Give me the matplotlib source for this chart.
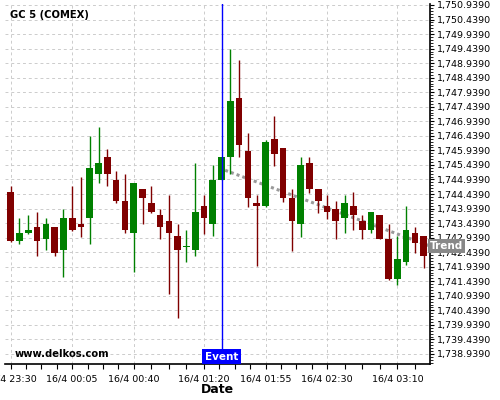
import datetime as dt
import numpy as np
import matplotlib
matplotlib.use('Agg')
import matplotlib.pyplot as plt
import matplotlib.transforms as mtransforms

# 5 minute candles, GC 5 (COMEX)
start = dt.datetime(2020, 4, 15, 23, 30)
opens = [1744.51, 1742.83, 1743.10, 1743.31, 1742.89, 1743.31, 1742.52, 1743.61,
         1743.41, 1743.61, 1745.13, 1745.71, 1744.92, 1744.20, 1743.11, 1744.61,
         1744.13, 1743.72, 1743.51, 1743.00, 1742.62, 1742.52, 1744.03, 1743.42,
         1744.93, 1745.72, 1747.74, 1745.92, 1744.13, 1744.03, 1746.33, 1746.02,
         1744.31, 1743.42, 1745.51, 1744.61, 1744.03, 1743.92, 1743.63, 1744.03,
         1743.51, 1743.21, 1743.72, 1742.90, 1741.53, 1742.11, 1743.10, 1743.00]
highs = [1744.72, 1743.60, 1743.71, 1743.81, 1743.60, 1743.31, 1743.91, 1744.70,
         1745.01, 1746.42, 1746.73, 1746.00, 1745.22, 1745.12, 1744.82, 1744.61,
         1744.70, 1743.91, 1744.40, 1743.40, 1743.19, 1745.50, 1744.40, 1745.43,
         1745.71, 1749.42, 1749.04, 1746.53, 1744.40, 1746.31, 1747.11, 1746.02,
         1744.60, 1745.70, 1745.70, 1744.61, 1744.40, 1744.19, 1744.40, 1744.50,
         1743.72, 1743.82, 1743.72, 1743.40, 1742.99, 1744.02, 1743.31, 1743.00]
lows = [1742.79, 1742.71, 1743.07, 1742.30, 1742.50, 1742.30, 1741.58, 1743.18,
        1742.97, 1742.71, 1744.81, 1744.70, 1744.12, 1743.09, 1741.77, 1743.40,
        1743.80, 1742.88, 1740.99, 1740.17, 1742.09, 1742.30, 1743.07, 1742.99,
        1744.93, 1745.13, 1745.70, 1744.00, 1741.97, 1744.00, 1745.41, 1744.18,
        1742.49, 1742.97, 1744.48, 1743.80, 1743.59, 1742.88, 1743.09, 1743.19,
        1742.88, 1743.09, 1742.88, 1741.49, 1741.32, 1741.99, 1742.40, 1741.89]
closes = [1742.83, 1743.10, 1743.20, 1742.83, 1743.41, 1742.42, 1743.61, 1743.20,
          1743.31, 1745.33, 1745.51, 1745.13, 1744.21, 1743.21, 1744.82, 1744.31,
          1743.83, 1743.32, 1743.11, 1742.52, 1742.65, 1743.82, 1743.63, 1744.92,
          1745.71, 1747.64, 1746.13, 1744.31, 1744.04, 1746.23, 1745.83, 1744.31,
          1743.52, 1745.44, 1744.62, 1744.21, 1743.83, 1743.52, 1744.13, 1743.73,
          1743.21, 1743.82, 1742.90, 1741.53, 1742.20, 1743.20, 1742.74, 1742.32]

major_idx = [0, 7, 14, 22, 29, 36, 44]
yticks = np.arange(1738.939, 1751.0, 0.5)

event_idx = 24
trend_x = [24.4, 47.72]
trend_y = [1745.255, 1742.651]

up_color = '#008000'
down_color = '#800000'

n = len(opens)
x = np.arange(n)
o = np.array(opens)
c = np.array(closes)
colors = [up_color if cc >= oo else down_color for oo, cc in zip(o, c)]
body_bottom = np.minimum(o, c)
body_height = np.maximum(np.abs(c - o), 0.03)

fig = plt.figure(figsize=(5, 4), dpi=100)
ax = fig.add_axes([0.01, 0.09, 0.85, 0.90])

# 网格
ax.set_axisbelow(True)
ax.grid(True, which='major', color='#cccccc', linestyle=(0, (3, 3)), linewidth=0.7)

# 趋势线
ax.plot(trend_x, trend_y, color='#999999', linestyle=(0, (1, 1)), linewidth=2.2, zorder=2)

# 蜡烛
ax.vlines(x, lows, highs, colors=colors, linewidth=1.0, zorder=3)
ax.bar(x, body_height, bottom=body_bottom, width=0.76, color=colors, zorder=4)

# 事件
ax.axvline(event_idx, color='#0000ff', linewidth=1.0, zorder=5)
blend = mtransforms.blended_transform_factory(ax.transData, ax.transAxes)
ax.text(event_idx, 0.006, 'Event', transform=blend, ha='center', va='bottom',
        color='white', fontsize=7.5, fontweight='bold', zorder=6,
        bbox=dict(boxstyle='square,pad=0.25', facecolor='#0000ff', edgecolor='none'))

blend_y = mtransforms.blended_transform_factory(ax.transAxes, ax.transData)
ax.text(1.0, trend_y[-1], 'Trend', transform=blend_y, ha='left', va='center',
        color='white', fontsize=7.5, fontweight='bold', zorder=10, clip_on=False,
        bbox=dict(boxstyle='square,pad=0.2', facecolor='#888888', edgecolor='none'))

ax.set_xlim(-0.65, 47.72)
ax.set_ylim(1738.594, 1750.973)

# x 轴
times = [start + dt.timedelta(minutes=5 * i) for i in range(n)]
labels = [f"{times[i].day}/{times[i].month} {times[i]:%H:%M}" for i in major_idx]
ax.set_xticks(major_idx)
ax.set_xticklabels(labels, fontsize=6.8)
minor = []
for a, b in zip(major_idx[:-1], major_idx[1:]):
    minor += list(np.linspace(a, b, 5)[1:-1])
step = (major_idx[-1] - major_idx[-2]) / 4
minor += [major_idx[-1] + step * k for k in range(1, 3) if major_idx[-1] + step * k < 47.72]
ax.set_xticks(minor, minor=True)
ax.tick_params(axis='x', which='both', length=3.5, width=0.8, pad=4)

# y 轴
ax.yaxis.tick_right()
ax.set_yticks(yticks)
ax.set_yticklabels(['{:,.4f}'.format(v) for v in yticks], fontsize=6.8)
ax.set_yticks(np.arange(1738.639, 1750.95, 0.1), minor=True)
ax.tick_params(axis='y', which='major', length=3, width=0.8, pad=2)
ax.tick_params(axis='y', which='minor', length=2, width=0.6)

ax.set_xlabel('Date', fontsize=9, fontweight='bold', labelpad=0)

for s in ['left', 'top']:
    ax.spines[s].set_visible(False)
ax.spines['right'].set_linewidth(1.2)
ax.spines['bottom'].set_linewidth(1.2)

fig.text(10 / 500, 1 - 15 / 400, 'GC 5 (COMEX)', fontsize=7.2, fontweight='bold', va='center')
fig.text(15 / 500, 1 - 354 / 400, 'www.delkos.com', fontsize=7.2, fontweight='bold', va='center')

fig.savefig('out.png', dpi=100)
